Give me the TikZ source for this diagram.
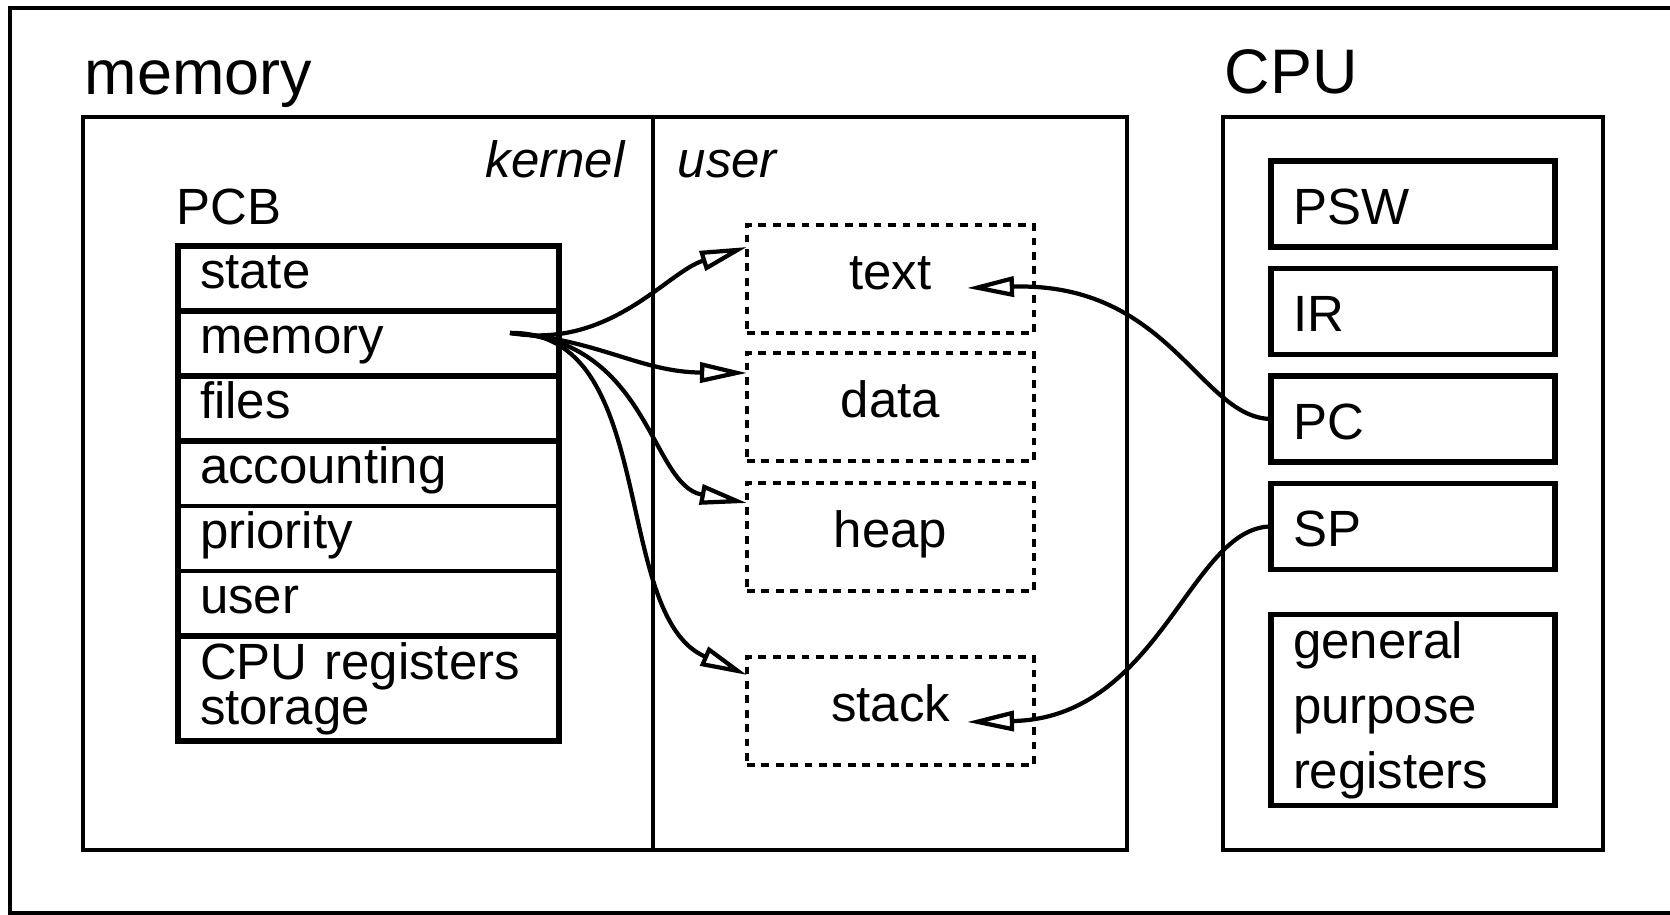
\documentclass[tikz,border=0pt]{standalone}
\usepackage{fontspec}
\setmainfont{Liberation Sans}
\usetikzlibrary{arrows.meta,positioning}
\tikzset{
  outline/.style={line width=0.9pt},
  membox/.style={line width=1.4pt},
  head/.style={font=\fontsize{17.9}{21}\selectfont, inner sep=0pt, anchor=base west},
  lab/.style={font=\fontsize{14.5}{17}\selectfont, inner sep=0pt, anchor=base west},
  ring/.style={lab, font=\fontsize{14.5}{17}\selectfont\itshape},
  pcbrow/.style={font=\fontsize{14.5}{17}\selectfont, text width=33.7mm, inner xsep=2.2mm,
    inner ysep=0pt, outer sep=0pt, minimum height=6.5mm, align=left},
  oneline/.style={text height=8.7pt, text depth=2.9pt},
  pcbline/.style={line width=1.5pt},
  pcbthin/.style={line width=0.9pt},
  seg/.style={draw, line width=1.3pt, dash pattern=on 2.2pt off 1.9pt, outer sep=0pt,
    minimum width=28.7mm, minimum height=10.8mm, font=\fontsize{14.5}{17}\selectfont,
    text height=8.7pt, text depth=2.9pt},
  regbox/.style={draw, line width=1.5pt, text width=24mm, inner xsep=2.2mm, inner ysep=0pt,
    outer sep=0pt, minimum height=8.6mm, align=left, font=\fontsize{14.5}{17}\selectfont},
  reg/.style={regbox, text height=11.6pt, text depth=0pt},
  link/.style={line width=1.2pt, -{Triangle[open, length=4.7mm, width=2mm]}}
}

\begin{document}
\begin{tikzpicture}[x=0.1mm, y=0.1mm]
  \useasboundingbox (0,0) rectangle (1670,915);
  % page frame, open to the right
  \draw[outline] (1670,907) -- (10,907) -- (10,2) -- (1670,2);

  % memory: kernel | user
  \node[head] (memlabel) at (84,820) {memory};
  \draw[membox] (83,798) rectangle (1127,65);
  \draw[membox] (653,798) -- (653,65);
  \node[ring] (kernellabel) at (485,737) {kernel};
  \node[ring] (userlabel) at (677,737) {user};

  % process control block
  \node[lab] (pcblabel) at (176,690) {PCB};
  \node[pcbrow, oneline, anchor=north west] (pcb-state) at (178,669) {state};
  \node[pcbrow, oneline, below=0pt of pcb-state] (pcb-memory) {memory};
  \node[pcbrow, oneline, below=0pt of pcb-memory] (pcb-files) {files};
  \node[pcbrow, oneline, below=0pt of pcb-files] (pcb-acct) {accounting};
  \node[pcbrow, oneline, below=0pt of pcb-acct] (pcb-prio) {priority};
  \node[pcbrow, oneline, below=0pt of pcb-prio] (pcb-user) {user};
  \node[pcbrow, below=0pt of pcb-user, minimum height=10.5mm] (pcb-regs) {CPU registers\\[-4.2pt]storage};
  \draw[pcbline] (pcb-state.south west) -- (pcb-state.south east);
  \draw[pcbline] (pcb-memory.south west) -- (pcb-memory.south east);
  \draw[pcbline] (pcb-files.south west) -- (pcb-files.south east);
  \draw[pcbthin] (pcb-acct.south west) -- (pcb-acct.south east);
  \draw[pcbthin] (pcb-prio.south west) -- (pcb-prio.south east);
  \draw[pcbline] (pcb-user.south west) -- (pcb-user.south east);
  \draw[pcbline] (pcb-state.north west) rectangle (pcb-regs.south east);

  % user space segments
  \node[seg] (seg-text) at (890.5,636) {text};
  \node[seg, below=2mm of seg-text] (seg-data) {data};
  \node[seg, below=2.2mm of seg-data] (seg-heap) {heap};
  \node[seg, below=6.6mm of seg-heap] (seg-stack) {stack};

  % cpu and its registers
  \node[head] (cpulabel) at (1224,821) {CPU};
  \draw[membox] (1223,798) rectangle (1603,65);
  \node[reg, anchor=north west] (psw) at (1271,754) {PSW};
  \node[reg, below=2.15mm of psw] (ir) {IR};
  \node[reg, below=2.15mm of ir] (pc) {PC};
  \node[reg, below=2.15mm of pc] (sp) {SP};
  \node[regbox, below=4.5mm of sp, minimum height=19.1mm,
    font=\fontsize{14.5}{18.5}\selectfont] (gpr) {general\\purpose\\registers};

  % pointers
  \coordinate (memptr) at (510,582);
  \draw[link] (memptr) .. controls (610,565) and (667,643) .. ([yshift=-2.2mm]seg-text.north west);
  \draw[link] (memptr) .. controls (600,575) and (640,543) .. ([yshift=-2mm]seg-data.north west);
  \draw[link] (memptr) .. controls (650,575) and (650,430) .. ([yshift=-2mm]seg-heap.north west);
  \draw[link] (memptr) .. controls (660,585) and (610,300) .. ([yshift=-1.8mm]seg-stack.north west);
  \draw[link] (pc.west) .. controls (1200,497) and (1170,633) .. ([shift={(-67,-9)}]seg-text.east);
  \draw[link] (sp.west) .. controls (1190,388) and (1160,197) .. ([shift={(-67,-11)}]seg-stack.east);
\end{tikzpicture}
\end{document}
